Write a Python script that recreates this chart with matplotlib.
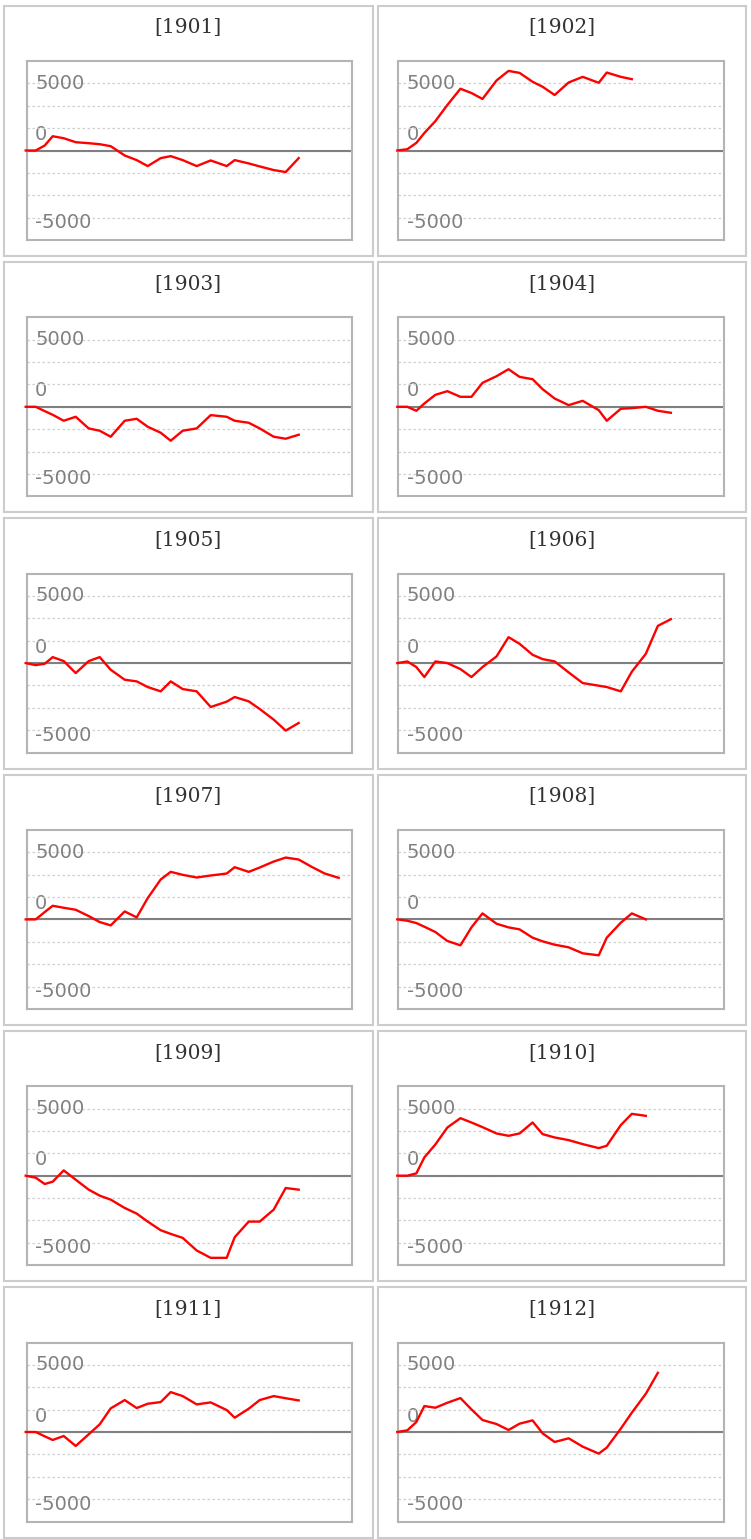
import numpy as np
import matplotlib
matplotlib.use('Agg')
import matplotlib.pyplot as plt
import matplotlib.transforms as mtransforms
from matplotlib.patches import Rectangle

# shared x positions of the samples (same dates for every year)
x_pos = [0, 10, 19, 27, 38, 50, 63, 74, 85, 99, 111, 122, 135, 145, 157,
         171, 185, 201, 209, 223, 234, 248, 260, 273, 286, 299, 313]

years = [1901, 1902, 1903, 1904, 1905, 1906, 1907, 1908, 1909, 1910, 1911, 1912]

v1901 = [0, 0, 371, 1062, 914, 618, 544, 469, 321, -371, -716, -1161, -568, -420,
         -716, -1161, -741, -1161, -716, -963, -1186, -1457, -1605, -568]
v1902 = [0, 98, 566, 1304, 2190, 3395, 4600, 4280, 3838, 5215, 5929, 5781, 5117,
         4748, 4133, 5068, 5486, 5043, 5806, 5486, 5314]
v1903 = [0, 0, -322, -594, -1040, -743, -1610, -1783, -2229, -1040, -892, -1486,
         -1932, -2526, -1783, -1610, -619, -743, -1040, -1189, -1610, -2229, -2378, -2081]
v1904 = [0, 0, -297, 248, 892, 1164, 743, 743, 1783, 2279, 2799, 2229, 2056, 1313,
         619, 124, 446, -248, -1040, -149, -99, 0, -297, -446]
v1905 = [0, -149, -50, 446, 149, -743, 149, 446, -495, -1238, -1362, -1783, -2105,
         -1362, -1932, -2105, -3270, -2873, -2526, -2849, -3418, -4211, -5028, -4459]
v1906 = [0, 124, -297, -1040, 124, 0, -446, -1040, -297, 495, 1932, 1437, 619, 297,
         124, -694, -1486, -1684, -1783, -2105, -644, 694, 2774, 3270]
v1907 = [0, 0, 545, 1016, 867, 718, 248, -198, -446, 594, 149, 1585, 2972, 3542,
         3319, 3121, 3270, 3418, 3889, 3542, 3864, 4310, 4607, 4459, 3914, 3418, 3096]
v1908 = [0, -99, -272, -545, -941, -1610, -1932, -594, 446, -322, -594, -743, -1362,
         -1635, -1883, -2081, -2526, -2675, -1362, -248, 446, 0]
v1909 = [0, -149, -619, -446, 396, -297, -1040, -1486, -1783, -2403, -2824, -3418,
         -4062, -4335, -4632, -5573, -6118, -6118, -4582, -3418, -3418, -2526, -917, -1040]
v1910 = [0, 0, 173, 1362, 2328, 3592, 4285, 3963, 3617, 3146, 2972, 3146, 3963, 3096,
         2849, 2650, 2353, 2056, 2229, 3765, 4607, 4459]
v1911 = [0, 0, -322, -594, -297, -1040, -173, 570, 1759, 2378, 1783, 2105, 2229, 2972,
         2675, 2056, 2204, 1635, 1065, 1734, 2378, 2675, 2514, 2353]
v1912 = [0, 124, 743, 1932, 1808, 2180, 2527, 1684, 892, 594, 149, 619, 866, -99,
         -743, -470, -1090, -1610, -1164, 248, 1437, 2849, 4409]

series = [v1901, v1902, v1903, v1904, v1905, v1906,
          v1907, v1908, v1909, v1910, v1911, v1912]

W, H = 751, 1539
fig = plt.figure(figsize=(W / 100, H / 100), dpi=100)


def fx(px):
    return px / W


def fy(py):
    return 1 - py / H


step = 5000 / 3
row_h = 256.3
# small vertical nudges (pixels) of the tick labels: -5000, 0, 5000
label_shift = {0: -3, 3: 18, 6: 2}

for k, (yr, vals) in enumerate(zip(years, series)):
    row, col = divmod(k, 2)
    if col == 0:
        left, right = 26.7, 351.7
        ox0, ox1 = 3.5, 373
    else:
        left, right = 398.3, 724
        ox0, ox1 = 378, 746
    top = 61 + row_h * row
    ot = 5.7 + row_h * row
    ob = 256 + row_h * row

    # panel frame and title
    fig.add_artist(Rectangle((fx(ox0), fy(ob)), (ox1 - ox0) / W, (ob - ot) / H,
                             transform=fig.transFigure, fill=False,
                             edgecolor='#cccccc', lw=1.5))
    fig.text(fx((ox0 + ox1) / 2), fy(28 + row_h * row), '[%d]' % yr,
             ha='center', va='center', family='DejaVu Serif', size=14.5, color='#333333')

    ax = fig.add_axes([fx(left), fy(top + 179), (right - left) / W, 179 / H])
    ax.set_xlim(1, 326)
    ax.set_ylim(-4 * step, 4 * step)
    ax.set_xticks([])
    ax.set_yticks(np.arange(-3, 4) * step)
    ax.set_yticklabels(['-5000', '', '', '0', '', '', '5000'])
    ax.grid(axis='y', color='#cfcfcf', linestyle=(0, (2, 2)), linewidth=0.9)
    ax.axhline(0, color='#808080', lw=1.5, zorder=2)
    ax.plot(x_pos[:len(vals)], vals, color='red', lw=1.7, zorder=3, clip_on=False)
    ax.tick_params(axis='y', length=0, pad=-6, labelsize=14, labelcolor='#808080')
    labs = ax.get_yticklabels()
    for lab in labs:
        lab.set_horizontalalignment('left')
    for i, dy in label_shift.items():
        labs[i].set_transform(labs[i].get_transform() +
                              mtransforms.ScaledTranslation(0, dy / 100, fig.dpi_scale_trans))
    for s in ax.spines.values():
        s.set_color('#b4b4b4')
        s.set_linewidth(1.5)

fig.savefig('out.png', dpi=100)
